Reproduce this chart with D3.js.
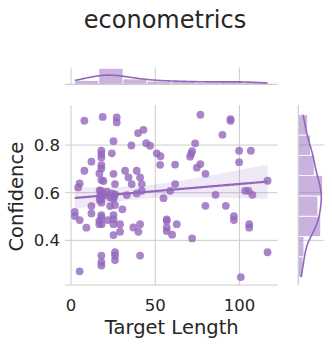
<!DOCTYPE html>
<html><head><meta charset="utf-8">
<script src="https://cdn.jsdelivr.net/npm/d3@7"></script>
<style>body{margin:0;background:#fff}svg{display:block}text{font-family:"DejaVu Sans",sans-serif;fill:#262626}</style>
</head><body><svg id="c" width="332" height="346"></svg>
<script>
const targetLength=[7.9,18.8,27.1,27.1,76.8,94.7,94.7,89.9,43.0,39.8,25.2,35.8,44.6,46.9,73.7,71.9,71.3,70.7,99.8,106.8,99.8,50.9,53.1,52.9,61.8,18.0,18.0,18.0,24.2,12.1,18.0,18.0,7.9,16.8,25.2,32.1,39.0,34.1,41.0,18.0,19.2,5.1,4.2,26.1,36.0,42.0,61.8,76.8,74.7,79.8,116.7,17.0,17.8,21.2,24.2,26.1,42.0,33.1,17.2,18.0,18.0,23.2,25.2,58.8,54.9,85.8,103.4,105.4,107.7,12.1,18.0,23.2,26.1,30.5,79.8,91.9,2.2,2.2,5.1,12.1,18.0,18.0,16.8,16.8,18.2,21.8,25.2,25.2,25.2,29.1,9.1,37.0,41.0,40.0,29.1,25.2,56.8,56.8,62.8,56.8,56.8,60.0,71.9,96.7,96.7,105.8,105.8,18.0,18.0,18.0,26.1,26.1,26.1,41.0,5.1,116.7,100.8,20.6,39.0,17.5,25.5,17.0];
const confidence=[0.902,0.918,0.916,0.895,0.927,0.909,0.902,0.843,0.864,0.850,0.816,0.798,0.808,0.797,0.807,0.774,0.763,0.751,0.776,0.776,0.728,0.765,0.753,0.717,0.718,0.776,0.762,0.748,0.765,0.730,0.716,0.702,0.692,0.681,0.679,0.692,0.692,0.664,0.664,0.653,0.649,0.639,0.622,0.636,0.636,0.636,0.636,0.720,0.705,0.679,0.650,0.610,0.607,0.604,0.597,0.593,0.608,0.590,0.583,0.583,0.572,0.580,0.573,0.608,0.577,0.591,0.608,0.608,0.591,0.544,0.558,0.544,0.548,0.530,0.545,0.545,0.519,0.502,0.485,0.513,0.506,0.496,0.482,0.468,0.468,0.485,0.506,0.489,0.468,0.468,0.453,0.454,0.468,0.436,0.436,0.422,0.488,0.482,0.468,0.454,0.439,0.424,0.408,0.502,0.485,0.468,0.453,0.336,0.308,0.294,0.350,0.336,0.317,0.336,0.270,0.350,0.246,0.590,0.597,0.590,0.583,0.569];
const xTicks=[0,50,100];
const yTicks=[0.4,0.6,0.8];
const titleText="econometrics", xLabel="Target Length", yLabel="Confidence";
const color="#9467bd", grid="#cccccc";

const svg=d3.select("#c");
const M={l:65,r:277.5,t:105,b:285};
const MX={t:67.5,b:84.3};
const MY={l:298.3,r:323.8};
const x=d3.scaleLinear().domain([-3.6,122.6]).range([M.l,M.r]);
const y=d3.scaleLinear().domain([0.2126,0.968]).range([M.b,M.t]);

svg.append("text").attr("x",165).attr("y",28).attr("text-anchor","middle").style("font-size","24px").text(titleText);

const g=svg.append("g");
g.selectAll(".vg").data(xTicks).join("line").attr("x1",d=>x(d)).attr("x2",d=>x(d)).attr("y1",M.t).attr("y2",M.b).attr("stroke",grid).attr("stroke-width",1);
g.selectAll(".hg").data(yTicks).join("line").attr("x1",M.l).attr("x2",M.r).attr("y1",d=>y(d)).attr("y2",d=>y(d)).attr("stroke",grid).attr("stroke-width",1);
g.append("line").attr("x1",M.l).attr("x2",M.r).attr("y1",M.b).attr("y2",M.b).attr("stroke",grid).attr("stroke-width",1.2);

g.selectAll(".xt").data(xTicks).join("text").attr("x",d=>x(d)).attr("y",310.5).attr("text-anchor","middle").style("font-size","16.5px").text(d=>d);
g.selectAll(".yt").data(yTicks).join("text").attr("x",60).attr("y",d=>y(d)+6).attr("text-anchor","end").style("font-size","16.5px").text(d=>d3.format(".1f")(d));
svg.append("text").attr("x",(M.l+M.r)/2+0.5).attr("y",333.5).attr("text-anchor","middle").style("font-size","19.5px").text(xLabel);
svg.append("text").attr("transform",`translate(23,${196.7}) rotate(-90)`).attr("text-anchor","middle").style("font-size","19.5px").text(yLabel);

const n=targetLength.length;
const mx=d3.mean(targetLength), my=d3.mean(confidence);
let sxx=0,sxy=0;
for(let i=0;i<n;i++){sxx+=(targetLength[i]-mx)**2;sxy+=(targetLength[i]-mx)*(confidence[i]-my);}
const slope=sxy/sxx, icpt=my-slope*mx;
let sse=0;for(let i=0;i<n;i++){sse+=(confidence[i]-icpt-slope*targetLength[i])**2;}
const s=Math.sqrt(sse/(n-2)), tq=1.98;
const [xmin,xmax]=d3.extent(targetLength);
const grid100=d3.range(0,101).map(i=>xmin+(xmax-xmin)*i/100);
const band=grid100.map(v=>{const p=icpt+slope*v;const se=s*Math.sqrt(1/n+(v-mx)**2/sxx);return {v,lo:p-tq*se,hi:p+tq*se,p};});
g.append("path").datum(band).attr("d",d3.area().x(d=>x(d.v)).y0(d=>y(d.lo)).y1(d=>y(d.hi))).attr("fill",color).attr("opacity",0.15);

g.selectAll(".pt").data(d3.range(n)).join("circle").attr("cx",i=>x(targetLength[i])).attr("cy",i=>y(confidence[i])).attr("r",3.9).attr("fill",color).attr("opacity",0.8);

g.append("path").datum(band).attr("d",d3.line().x(d=>x(d.v)).y(d=>y(d.p))).attr("fill","none").attr("stroke",color).attr("stroke-width",2.2);

function hist(vals){
  const [a,b]=d3.extent(vals);const k=8;const w=(b-a)/k;
  const th=d3.range(1,k).map(i=>a+i*w);
  const bins=d3.bin().domain([a,b]).thresholds(th)(vals);
  const sd=d3.deviation(vals);const bw=sd*Math.pow(vals.length,-0.2);
  const pts=d3.range(0,201).map(i=>{const v=a+(b-a)*i/200;let sum=0;for(const u of vals){sum+=Math.exp(-0.5*((v-u)/bw)**2);}const dens=sum/(vals.length*bw*Math.sqrt(2*Math.PI));return {v,c:dens*vals.length*w};});
  return {bins,pts};
}
const hx=hist(targetLength);
const maxX=Math.max(d3.max(hx.bins,b=>b.length),d3.max(hx.pts,p=>p.c));
const cy=d3.scaleLinear().domain([0,maxX*1.05]).range([MX.b,MX.t]);
const gx=svg.append("g");
gx.selectAll(".vg").data(xTicks).join("line").attr("x1",d=>x(d)).attr("x2",d=>x(d)).attr("y1",MX.t).attr("y2",MX.b).attr("stroke",grid);
gx.selectAll("rect").data(hx.bins).join("rect").attr("x",b=>x(b.x0)).attr("width",b=>x(b.x1)-x(b.x0)).attr("y",b=>cy(b.length)).attr("height",b=>MX.b-cy(b.length)).attr("fill",color).attr("fill-opacity",0.5).attr("stroke","#fff").attr("stroke-width",0.8);
gx.append("line").attr("x1",M.l).attr("x2",M.r).attr("y1",MX.b).attr("y2",MX.b).attr("stroke",grid).attr("stroke-width",1.2);
gx.append("path").datum(hx.pts).attr("d",d3.line().x(p=>x(p.v)).y(p=>cy(p.c))).attr("fill","none").attr("stroke",color).attr("stroke-width",1.6);

const hy=hist(confidence);
const maxY=Math.max(d3.max(hy.bins,b=>b.length),d3.max(hy.pts,p=>p.c));
const cx=d3.scaleLinear().domain([0,maxY*1.05]).range([MY.l,MY.r]);
const gy=svg.append("g");
gy.selectAll(".hg").data(yTicks).join("line").attr("x1",MY.l).attr("x2",MY.r).attr("y1",d=>y(d)).attr("y2",d=>y(d)).attr("stroke",grid);
gy.selectAll("rect").data(hy.bins).join("rect").attr("y",b=>y(b.x1)).attr("height",b=>y(b.x0)-y(b.x1)).attr("x",MY.l).attr("width",b=>cx(b.length)-MY.l).attr("fill",color).attr("fill-opacity",0.5).attr("stroke","#fff").attr("stroke-width",0.8);
gy.append("line").attr("x1",MY.l).attr("x2",MY.l).attr("y1",M.t).attr("y2",M.b).attr("stroke",grid).attr("stroke-width",1.2);
gy.append("path").datum(hy.pts).attr("d",d3.line().x(p=>cx(p.c)).y(p=>y(p.v))).attr("fill","none").attr("stroke",color).attr("stroke-width",1.6);
</script></body></html>
